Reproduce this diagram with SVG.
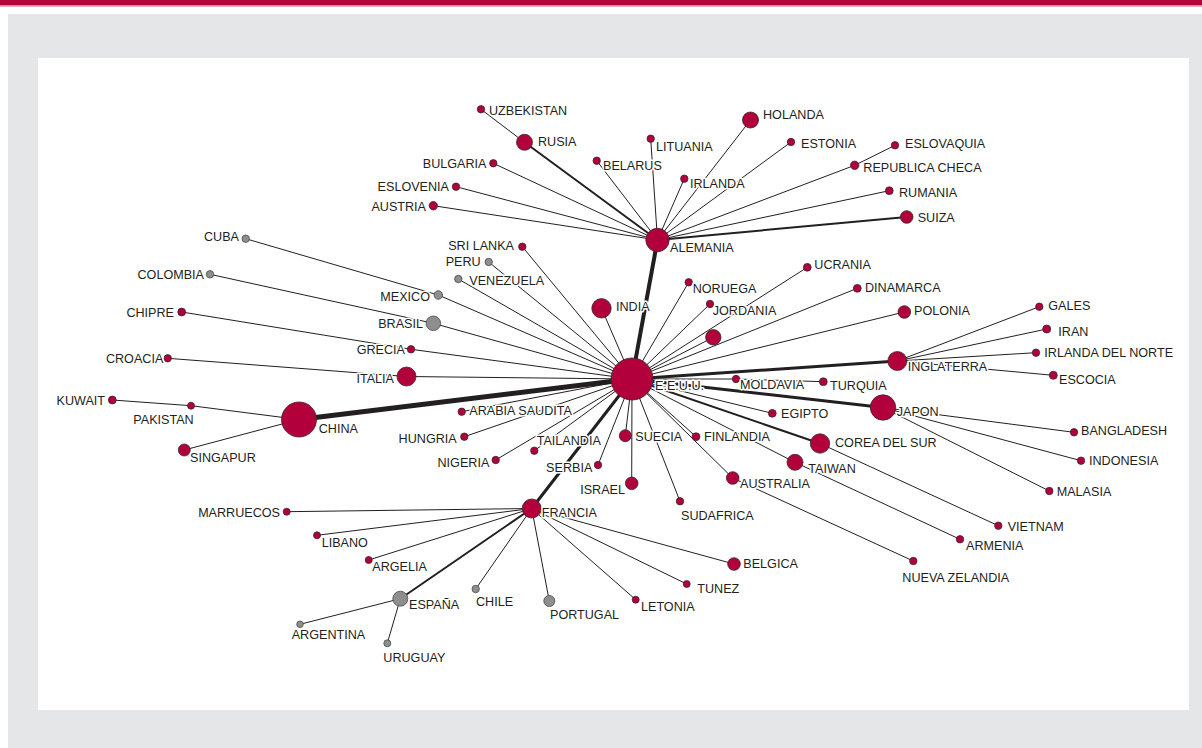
<svg xmlns="http://www.w3.org/2000/svg" width="1202" height="748" viewBox="0 0 1202 748">
<style>
.e{stroke:#231f20;stroke-width:1;fill:none}
.m{stroke-width:2}
.t{stroke-width:3}
.k{stroke-width:4}
.x{stroke-width:5}
.r{fill:#b1003b;stroke:#3a2a2a;stroke-width:0.8}
.g{fill:#8e8e8e;stroke:#4a4a4a;stroke-width:0.8}
text{font-family:"Liberation Sans",Arial,Helvetica,sans-serif;font-size:12.6px;fill:#231f20;stroke:#fff;stroke-width:3;stroke-linejoin:round;paint-order:stroke}
.end{text-anchor:end}
</style>
<rect x="0" y="0" width="1202" height="748" fill="#fff"/>
<rect x="0" y="0" width="1202" height="5.5" fill="#b3053c"/>
<rect x="0" y="5.5" width="1202" height="1.2" fill="#dc8ea4"/>
<rect x="8" y="14" width="1194" height="734" fill="#e5e6e8"/>
<rect x="38" y="58" width="1151" height="652" fill="#fff"/>
<g id="connectors">
<line class="e k" x1="632" y1="379" x2="657.5" y2="240"/>
<line class="e x" x1="632" y1="379" x2="299" y2="419.5"/>
<line class="e t" x1="632" y1="379" x2="531.7" y2="508.5"/>
<line class="e t" x1="632" y1="379" x2="897.3" y2="361"/>
<line class="e t" x1="632" y1="379" x2="883" y2="407.5"/>
<line class="e m" x1="632" y1="379" x2="820" y2="443.5"/>
<line class="e" x1="632" y1="379" x2="522.3" y2="246.7"/>
<line class="e" x1="632" y1="379" x2="488.7" y2="262"/>
<line class="e" x1="632" y1="379" x2="458.3" y2="279"/>
<line class="e" x1="632" y1="379" x2="438.3" y2="295"/>
<line class="e" x1="632" y1="379" x2="433.3" y2="323.3"/>
<line class="e" x1="632" y1="379" x2="411" y2="349.3"/>
<line class="e" x1="632" y1="379" x2="406.5" y2="376.5"/>
<line class="e" x1="632" y1="379" x2="461.7" y2="411.7"/>
<line class="e" x1="632" y1="379" x2="464.3" y2="436.7"/>
<line class="e" x1="632" y1="379" x2="495.7" y2="460"/>
<line class="e" x1="632" y1="379" x2="534.3" y2="450.7"/>
<line class="e" x1="632" y1="379" x2="598" y2="465"/>
<line class="e" x1="632" y1="379" x2="625.3" y2="435.7"/>
<line class="e" x1="632" y1="379" x2="631.7" y2="483.3"/>
<line class="e" x1="632" y1="379" x2="680" y2="501.3"/>
<line class="e" x1="632" y1="379" x2="696" y2="436.7"/>
<line class="e" x1="632" y1="379" x2="732.7" y2="478"/>
<line class="e" x1="632" y1="379" x2="795" y2="462.3"/>
<line class="e" x1="632" y1="379" x2="772.3" y2="413.3"/>
<line class="e" x1="632" y1="379" x2="736" y2="379"/>
<line class="e" x1="632" y1="379" x2="904.3" y2="312"/>
<line class="e" x1="632" y1="379" x2="857.3" y2="288.3"/>
<line class="e" x1="632" y1="379" x2="713.3" y2="337.3"/>
<line class="e" x1="632" y1="379" x2="710" y2="304"/>
<line class="e" x1="632" y1="379" x2="807.3" y2="267.3"/>
<line class="e" x1="632" y1="379" x2="688.7" y2="282.3"/>
<line class="e" x1="632" y1="379" x2="601.5" y2="308.3"/>
<line class="e m" x1="657.5" y1="240" x2="524.5" y2="142.3"/>
<line class="e m" x1="657.5" y1="240" x2="906.7" y2="217"/>
<line class="e" x1="657.5" y1="240" x2="650.7" y2="138.7"/>
<line class="e" x1="657.5" y1="240" x2="596.7" y2="160.7"/>
<line class="e" x1="657.5" y1="240" x2="493.3" y2="163.3"/>
<line class="e" x1="657.5" y1="240" x2="456" y2="186.7"/>
<line class="e" x1="657.5" y1="240" x2="433.3" y2="205.7"/>
<line class="e" x1="657.5" y1="240" x2="684.3" y2="178.7"/>
<line class="e" x1="657.5" y1="240" x2="750.5" y2="120"/>
<line class="e" x1="657.5" y1="240" x2="791" y2="142"/>
<line class="e" x1="657.5" y1="240" x2="854.7" y2="165.3"/>
<line class="e" x1="657.5" y1="240" x2="889.3" y2="190.7"/>
<line class="e" x1="481" y1="109.3" x2="524.5" y2="142.3"/>
<line class="e" x1="895" y1="145.3" x2="854.7" y2="165.3"/>
<line class="e" x1="245.7" y1="238.7" x2="438.3" y2="295"/>
<line class="e" x1="210" y1="274.3" x2="433.3" y2="323.3"/>
<line class="e" x1="181.7" y1="312" x2="411" y2="349.3"/>
<line class="e" x1="167.7" y1="358.3" x2="406.5" y2="376.5"/>
<line class="e" x1="112.3" y1="400" x2="191" y2="405.7"/>
<line class="e" x1="191" y1="405.7" x2="299" y2="419.5"/>
<line class="e" x1="184.3" y1="450" x2="299" y2="419.5"/>
<line class="e" x1="897.3" y1="361" x2="1039.3" y2="306.7"/>
<line class="e" x1="897.3" y1="361" x2="1046.7" y2="329"/>
<line class="e" x1="897.3" y1="361" x2="1036" y2="352.7"/>
<line class="e" x1="897.3" y1="361" x2="1053.3" y2="375.3"/>
<line class="e" x1="736" y1="379" x2="823.3" y2="381.7"/>
<line class="e" x1="883" y1="407.5" x2="1074" y2="432.3"/>
<line class="e" x1="883" y1="407.5" x2="1081" y2="460.7"/>
<line class="e" x1="883" y1="407.5" x2="1049.3" y2="491"/>
<line class="e" x1="820" y1="443.5" x2="998.3" y2="525.7"/>
<line class="e" x1="795" y1="462.3" x2="960" y2="539.3"/>
<line class="e" x1="732.7" y1="478" x2="913.3" y2="561"/>
<line class="e" x1="531.7" y1="508.5" x2="286.7" y2="511.7"/>
<line class="e" x1="531.7" y1="508.5" x2="317" y2="535.3"/>
<line class="e" x1="531.7" y1="508.5" x2="368.7" y2="560"/>
<line class="e m" x1="531.7" y1="508.5" x2="400.3" y2="598.7"/>
<line class="e" x1="531.7" y1="508.5" x2="475.7" y2="589"/>
<line class="e" x1="531.7" y1="508.5" x2="549.3" y2="601"/>
<line class="e" x1="531.7" y1="508.5" x2="734" y2="564"/>
<line class="e" x1="531.7" y1="508.5" x2="686.7" y2="584"/>
<line class="e" x1="531.7" y1="508.5" x2="635.7" y2="599.7"/>
<line class="e" x1="400.3" y1="598.7" x2="300" y2="624.3"/>
<line class="e" x1="400.3" y1="598.7" x2="387.3" y2="643.3"/>
</g>
<g id="n-eeuu"><circle class="r" cx="632" cy="379" r="21"/><text x="655" y="390">E.E.U.U.</text></g>
<g id="n-alemania"><circle class="r" cx="657.5" cy="240" r="11.7"/><text x="670" y="251.7">ALEMANIA</text></g>
<g id="n-china"><circle class="r" cx="299" cy="419.5" r="17.5"/><text x="318.7" y="433.3">CHINA</text></g>
<g id="n-japon"><circle class="r" cx="883" cy="407.5" r="12.7"/><text x="896.7" y="416">JAPON</text></g>
<g id="n-india"><circle class="r" cx="601.5" cy="308.3" r="9.7"/><text x="616" y="311">INDIA</text></g>
<g id="n-italia"><circle class="r" cx="406.5" cy="376.5" r="9.5"/><text class="end" x="394" y="383.3">ITALIA</text></g>
<g id="n-francia"><circle class="r" cx="531.7" cy="508.5" r="9.5"/><text x="541.7" y="516.7">FRANCIA</text></g>
<g id="n-inglaterra"><circle class="r" cx="897.3" cy="361" r="9.5"/><text x="907.7" y="370.7">INGLATERRA</text></g>
<g id="n-corea"><circle class="r" cx="820" cy="443.5" r="9.7"/><text x="835" y="447.3">COREA DEL SUR</text></g>
<g id="n-taiwan"><circle class="r" cx="795" cy="462.3" r="8"/><text x="808.3" y="472.7">TAIWAN</text></g>
<g id="n-rusia"><circle class="r" cx="524.5" cy="142.3" r="8"/><text x="538" y="146">RUSIA</text></g>
<g id="n-holanda"><circle class="r" cx="750.5" cy="120" r="8"/><text x="763" y="119.3">HOLANDA</text></g>
<g id="n-unlabeled"><circle class="r" cx="713.3" cy="337.3" r="7.7"/></g>
<g id="n-suiza"><circle class="r" cx="906.7" cy="217" r="6.3"/><text x="917.7" y="222">SUIZA</text></g>
<g id="n-polonia"><circle class="r" cx="904.3" cy="312" r="6.3"/><text x="914" y="315">POLONIA</text></g>
<g id="n-suecia"><circle class="r" cx="625.3" cy="435.7" r="6"/><text x="635.3" y="440.7">SUECIA</text></g>
<g id="n-israel"><circle class="r" cx="631.7" cy="483.3" r="6.3"/><text class="end" x="625" y="494.3">ISRAEL</text></g>
<g id="n-australia"><circle class="r" cx="732.7" cy="478" r="6.3"/><text x="740" y="487.7">AUSTRALIA</text></g>
<g id="n-belgica"><circle class="r" cx="734" cy="564" r="6.3"/><text x="743.3" y="568.3">BELGICA</text></g>
<g id="n-singapur"><circle class="r" cx="184.3" cy="450" r="6"/><text x="190" y="462.3">SINGAPUR</text></g>
<g id="n-brasil"><circle class="g" cx="433.3" cy="323.3" r="7.3"/><text class="end" x="423" y="328.3">BRASIL</text></g>
<g id="n-espana"><circle class="g" cx="400.3" cy="598.7" r="7.5"/><text x="409" y="609">ESPAÑA</text></g>
<g id="n-portugal"><circle class="g" cx="549.3" cy="601" r="5.5"/><text x="550" y="619.3">PORTUGAL</text></g>
<g id="n-mexico"><circle class="g" cx="438.3" cy="295" r="4.3"/><text class="end" x="430" y="300.7">MEXICO</text></g>
<g id="n-cuba"><circle class="g" cx="245.7" cy="238.7" r="3.7"/><text class="end" x="239" y="240.7">CUBA</text></g>
<g id="n-colombia"><circle class="g" cx="210" cy="274.3" r="3.7"/><text class="end" x="204" y="279">COLOMBIA</text></g>
<g id="n-peru"><circle class="g" cx="488.7" cy="262" r="3.7"/><text class="end" x="480.7" y="266">PERU</text></g>
<g id="n-venezuela"><circle class="g" cx="458.3" cy="279" r="3.7"/><text x="469.3" y="285">VENEZUELA</text></g>
<g id="n-chile"><circle class="g" cx="475.7" cy="589" r="3.7"/><text x="476" y="606">CHILE</text></g>
<g id="n-argentina"><circle class="g" cx="300" cy="624.3" r="3.3"/><text x="291.7" y="639.3">ARGENTINA</text></g>
<g id="n-uruguay"><circle class="g" cx="387.3" cy="643.3" r="3.5"/><text x="383.3" y="662.3">URUGUAY</text></g>
<g id="n-uzbekistan"><circle class="r" cx="481" cy="109.3" r="3.7"/><text x="489" y="115">UZBEKISTAN</text></g>
<g id="n-lituania"><circle class="r" cx="650.7" cy="138.7" r="3.7"/><text x="656" y="150.5">LITUANIA</text></g>
<g id="n-belarus"><circle class="r" cx="596.7" cy="160.7" r="3.7"/><text x="603" y="170">BELARUS</text></g>
<g id="n-bulgaria"><circle class="r" cx="493.3" cy="163.3" r="3.7"/><text class="end" x="486.5" y="168.3">BULGARIA</text></g>
<g id="n-eslovenia"><circle class="r" cx="456" cy="186.7" r="3.7"/><text class="end" x="449" y="191.3">ESLOVENIA</text></g>
<g id="n-austria"><circle class="r" cx="433.3" cy="205.7" r="4.2"/><text class="end" x="426" y="211">AUSTRIA</text></g>
<g id="n-irlanda"><circle class="r" cx="684.3" cy="178.7" r="3.7"/><text x="690" y="188.3">IRLANDA</text></g>
<g id="n-estonia"><circle class="r" cx="791" cy="142" r="3.7"/><text x="801" y="147.7">ESTONIA</text></g>
<g id="n-eslovaquia"><circle class="r" cx="895" cy="145.3" r="3.7"/><text x="905" y="148.3">ESLOVAQUIA</text></g>
<g id="n-republicacheca"><circle class="r" cx="854.7" cy="165.3" r="4.2"/><text x="863.3" y="172.3">REPUBLICA CHECA</text></g>
<g id="n-rumania"><circle class="r" cx="889.3" cy="190.7" r="3.9"/><text x="899" y="197.3">RUMANIA</text></g>
<g id="n-srilanka"><circle class="r" cx="522.3" cy="246.7" r="3.7"/><text class="end" x="514" y="250">SRI LANKA</text></g>
<g id="n-noruega"><circle class="r" cx="688.7" cy="282.3" r="3.7"/><text x="692.7" y="293.3">NORUEGA</text></g>
<g id="n-jordania"><circle class="r" cx="710" cy="304" r="3.7"/><text x="712.7" y="315">JORDANIA</text></g>
<g id="n-ucrania"><circle class="r" cx="807.3" cy="267.3" r="3.9"/><text x="814.3" y="269.3">UCRANIA</text></g>
<g id="n-dinamarca"><circle class="r" cx="857.3" cy="288.3" r="3.9"/><text x="865" y="292.3">DINAMARCA</text></g>
<g id="n-gales"><circle class="r" cx="1039.3" cy="306.7" r="3.7"/><text x="1048.3" y="310">GALES</text></g>
<g id="n-iran"><circle class="r" cx="1046.7" cy="329" r="4"/><text x="1058.3" y="335.7">IRAN</text></g>
<g id="n-irlandadelnorte"><circle class="r" cx="1036" cy="352.7" r="3.7"/><text x="1044.3" y="356.7">IRLANDA DEL NORTE</text></g>
<g id="n-escocia"><circle class="r" cx="1053.3" cy="375.3" r="4"/><text x="1059" y="384">ESCOCIA</text></g>
<g id="n-moldavia"><circle class="r" cx="736" cy="379" r="3.7"/><text x="740" y="389.3">MOLDAVIA</text></g>
<g id="n-turquia"><circle class="r" cx="823.3" cy="381.7" r="3.9"/><text x="830" y="390">TURQUIA</text></g>
<g id="n-egipto"><circle class="r" cx="772.3" cy="413.3" r="3.9"/><text x="781" y="418.3">EGIPTO</text></g>
<g id="n-bangladesh"><circle class="r" cx="1074" cy="432.3" r="3.7"/><text x="1081" y="435">BANGLADESH</text></g>
<g id="n-indonesia"><circle class="r" cx="1081" cy="460.7" r="3.7"/><text x="1089" y="465">INDONESIA</text></g>
<g id="n-malasia"><circle class="r" cx="1049.3" cy="491" r="3.7"/><text x="1056.7" y="496">MALASIA</text></g>
<g id="n-vietnam"><circle class="r" cx="998.3" cy="525.7" r="3.7"/><text x="1007.7" y="530.7">VIETNAM</text></g>
<g id="n-armenia"><circle class="r" cx="960" cy="539.3" r="3.7"/><text x="966" y="550">ARMENIA</text></g>
<g id="n-nuevazelandia"><circle class="r" cx="913.3" cy="561" r="3.7"/><text x="902.3" y="581.7">NUEVA ZELANDIA</text></g>
<g id="n-finlandia"><circle class="r" cx="696" cy="436.7" r="3.9"/><text x="704" y="440.7">FINLANDIA</text></g>
<g id="n-sudafrica"><circle class="r" cx="680" cy="501.3" r="3.7"/><text x="681" y="520">SUDAFRICA</text></g>
<g id="n-serbia"><circle class="r" cx="598" cy="465" r="3.7"/><text class="end" x="592.3" y="472.3">SERBIA</text></g>
<g id="n-tailandia"><circle class="r" cx="534.3" cy="450.7" r="3.7"/><text x="536.7" y="445">TAILANDIA</text></g>
<g id="n-nigeria"><circle class="r" cx="495.7" cy="460" r="3.7"/><text class="end" x="489.3" y="466.7">NIGERIA</text></g>
<g id="n-arabiasaudita"><circle class="r" cx="461.7" cy="411.7" r="3.7"/><text x="469.3" y="415">ARABIA SAUDITA</text></g>
<g id="n-hungria"><circle class="r" cx="464.3" cy="436.7" r="3.7"/><text class="end" x="456.7" y="443.3">HUNGRIA</text></g>
<g id="n-grecia"><circle class="r" cx="411" cy="349.3" r="3.7"/><text class="end" x="405" y="354">GRECIA</text></g>
<g id="n-chipre"><circle class="r" cx="181.7" cy="312" r="3.9"/><text class="end" x="174" y="316.7">CHIPRE</text></g>
<g id="n-croacia"><circle class="r" cx="167.7" cy="358.3" r="3.7"/><text class="end" x="163.3" y="363.3">CROACIA</text></g>
<g id="n-kuwait"><circle class="r" cx="112.3" cy="400" r="3.9"/><text class="end" x="105" y="405">KUWAIT</text></g>
<g id="n-pakistan"><circle class="r" cx="191" cy="405.7" r="3.5"/><text x="133.3" y="424">PAKISTAN</text></g>
<g id="n-marruecos"><circle class="r" cx="286.7" cy="511.7" r="3.5"/><text class="end" x="280" y="516.7">MARRUECOS</text></g>
<g id="n-libano"><circle class="r" cx="317" cy="535.3" r="3.5"/><text x="321.7" y="546.7">LIBANO</text></g>
<g id="n-argelia"><circle class="r" cx="368.7" cy="560" r="3.5"/><text x="372.3" y="570.7">ARGELIA</text></g>
<g id="n-tunez"><circle class="r" cx="686.7" cy="584" r="3.5"/><text x="697.3" y="593.3">TUNEZ</text></g>
<g id="n-letonia"><circle class="r" cx="635.7" cy="599.7" r="3.5"/><text x="641" y="610.7">LETONIA</text></g>
</svg>
